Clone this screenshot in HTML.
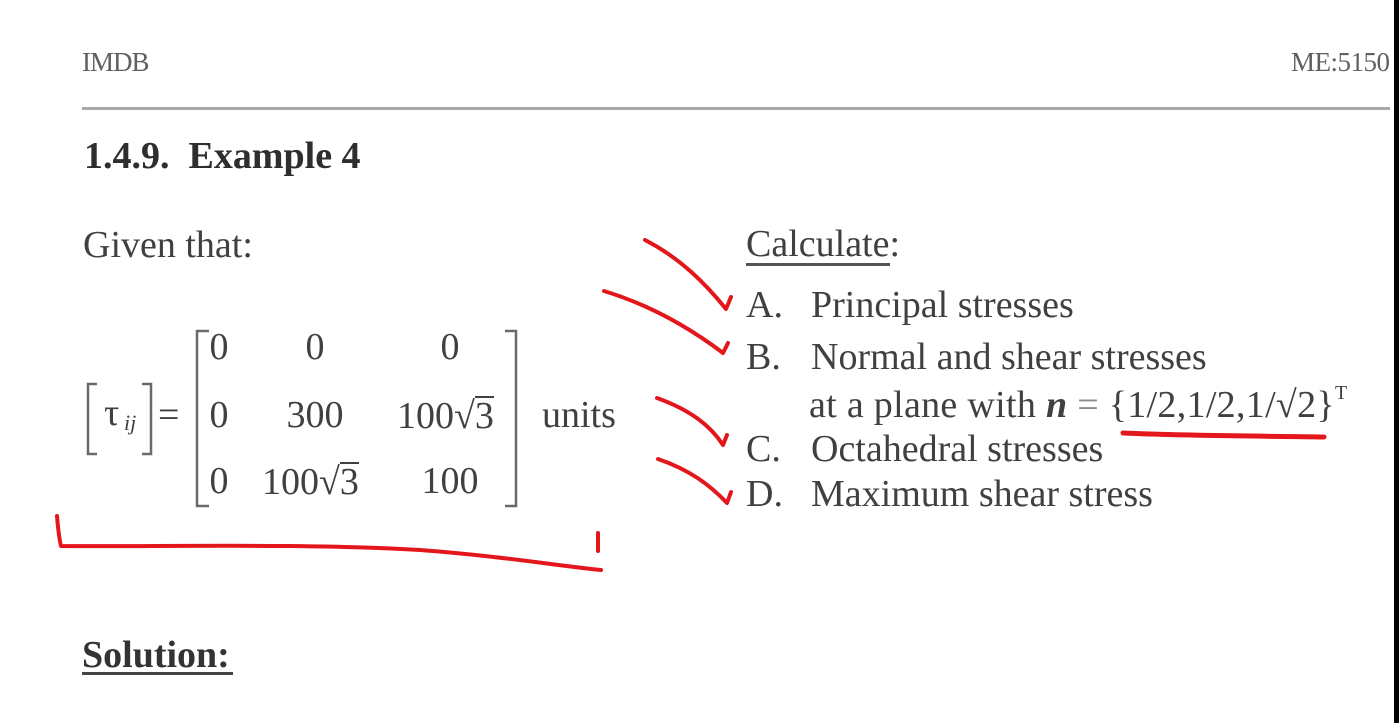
<!DOCTYPE html>
<html>
<head>
<meta charset="utf-8">
<style>
  html,body{margin:0;padding:0;background:#fff;}
  body{width:1399px;height:723px;position:relative;overflow:hidden;font-family:"Liberation Serif","Times New Roman",serif;color:#404040;}
  .t{position:absolute;white-space:nowrap;line-height:1;}
  .f37{font-size:38px;}
  .b{font-weight:bold;}
  .c{text-align:center;width:200px;}
  .ov{border-top:2px solid #404040;padding-top:0;display:inline-block;line-height:0.95;}
  .rule{position:absolute;background:#a8a8a8;}
</style>
</head>
<body>

<!-- header -->
<div class="t" style="left:82px;top:49px;font-size:27px;color:#606060;letter-spacing:-1px;">IMDB</div>
<div class="t" style="left:1291px;top:49px;font-size:27px;color:#606060;letter-spacing:-0.5px;">ME:5150</div>
<div class="rule" style="left:82px;top:107px;width:1308px;height:3px;"></div>

<!-- title -->
<div class="t f37 b" style="left:84px;top:137px;color:#2e2e2e;">1.4.9.&nbsp; Example 4</div>

<!-- Given that -->
<div class="t f37" style="left:83px;top:226px;">Given that:</div>

<!-- Calculate list -->
<div class="t f37" style="left:746px;top:225px;">Calculate:</div>
<div class="rule" style="left:746px;top:263px;width:144px;height:3px;background:#555;"></div>

<div class="t f37" style="left:746px;top:286px;">A.</div>
<div class="t f37" style="left:811px;top:286px;">Principal stresses</div>

<div class="t f37" style="left:746px;top:338px;">B.</div>
<div class="t f37" style="left:811px;top:338px;">Normal and shear stresses</div>

<div class="t f37" style="left:809px;top:383px;letter-spacing:0.3px;">at a plane with <b><i>n</i></b> <span style="color:#888;">=</span> {1/2,1/2,1/√2}<span style="font-size:20px;vertical-align:18px;">T</span></div>

<div class="t f37" style="left:746px;top:430px;">C.</div>
<div class="t f37" style="left:811px;top:430px;">Octahedral stresses</div>

<div class="t f37" style="left:746px;top:475px;">D.</div>
<div class="t f37" style="left:811px;top:475px;">Maximum shear stress</div>

<!-- matrix -->
<svg style="position:absolute;left:0;top:0;" width="1399" height="723">
  <g stroke="#6a6a6a" stroke-width="2.5" fill="none">
    <path d="M97,384 L88,384 L88,454 L97,454"/>
    <path d="M142,384 L151,384 L151,454 L142,454"/>
    <path d="M209,331 L197,331 L197,506 L209,506"/>
    <path d="M505,331 L516,331 L516,506 L505,506"/>
  </g>
</svg>

<div class="t f37" style="left:104px;top:394px;">τ</div>
<div class="t" style="left:124px;top:412px;font-size:22px;font-style:italic;">ij</div>
<div class="t f37" style="left:158px;top:396px;">=</div>

<!-- row 1 -->
<div class="t f37 c" style="left:119px;top:328px;">0</div>
<div class="t f37 c" style="left:215px;top:328px;">0</div>
<div class="t f37 c" style="left:350px;top:328px;">0</div>
<!-- row 2 -->
<div class="t f37 c" style="left:119px;top:396px;">0</div>
<div class="t f37 c" style="left:215px;top:396px;">300</div>
<div class="t f37" style="left:397px;top:396px;">100√<span class="ov">3</span></div>
<!-- row 3 -->
<div class="t f37 c" style="left:119px;top:462px;">0</div>
<div class="t f37" style="left:262px;top:462px;">100√<span class="ov">3</span></div>
<div class="t f37 c" style="left:350px;top:462px;">100</div>

<div class="t f37" style="left:542px;top:396px;">units</div>

<!-- Solution -->
<div class="t f37 b" style="left:82px;top:636px;color:#333;">Solution:</div>
<div class="rule" style="left:82px;top:672px;width:151px;height:3px;background:#444;"></div>

<!-- red annotations -->
<svg style="position:absolute;left:0;top:0;" width="1399" height="723">
  <g stroke="#e3161c" stroke-width="4" fill="none" stroke-linecap="round" stroke-linejoin="round">
    <path d="M645,240 C680,258 705,283 726,309 L731,297"/>
    <path d="M604,291 C650,305 690,328 723,353 L728,343"/>
    <path d="M657,398 C690,410 710,425 723,445 L727,435"/>
    <path d="M658,459 C690,470 710,485 727,503 L731,492"/>
    <path d="M1123,433 C1190,436 1260,436 1324,437" stroke-width="5"/>
    <path d="M57,516 C58,528 59,538 61,546 C150,547 300,543 420,550 C500,556 560,566 601,570"/>
    <path d="M598,533 L598,551"/>
  </g>
</svg>

<!-- right edge black bar -->
<div style="position:absolute;left:1394px;top:0;width:5px;height:723px;background:#000;"></div>

</body>
</html>
